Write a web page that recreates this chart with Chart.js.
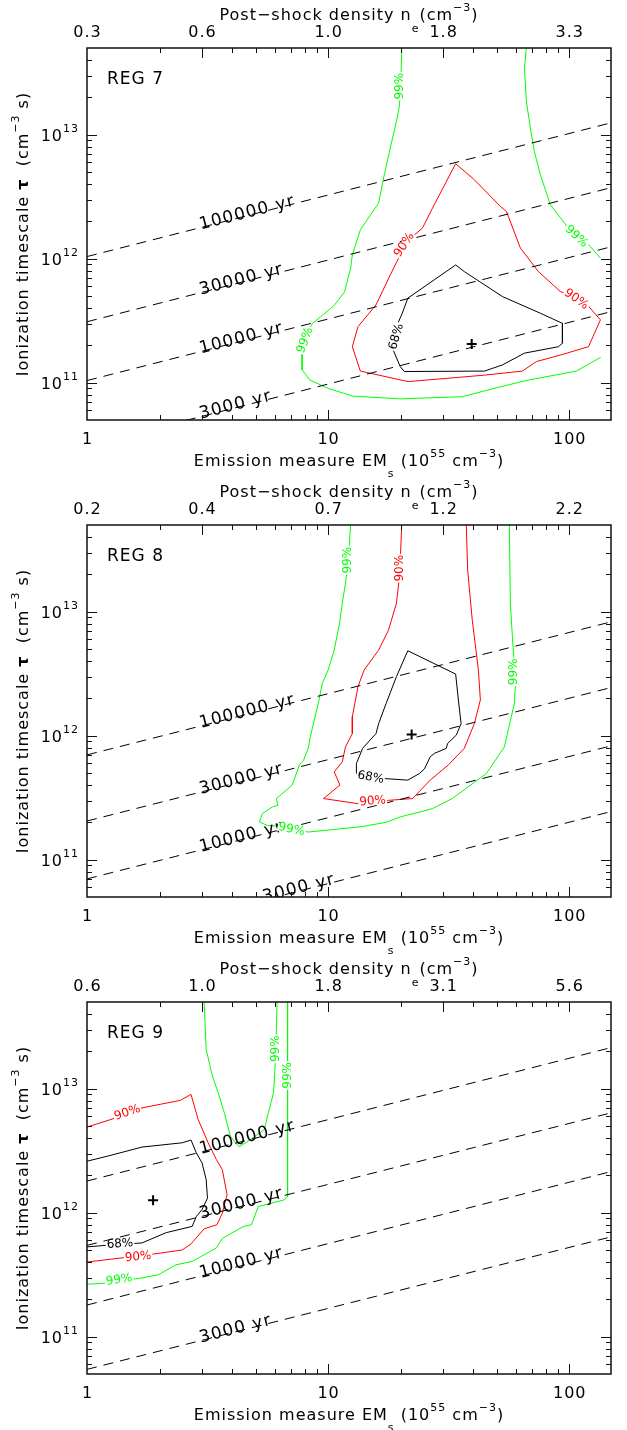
<!DOCTYPE html>
<html>
<head>
<meta charset="utf-8">
<script src="https://cdn.jsdelivr.net/npm/chart.js@4.4.1/dist/chart.umd.min.js"></script>
<style>
  html, body { margin: 0; padding: 0; background: #fff; }
  canvas { display: block; }
</style>
</head>
<body>
<canvas id="reg7" width="627" height="477"></canvas>
<canvas id="reg8" width="627" height="477"></canvas>
<canvas id="reg9" width="627" height="476"></canvas>
<script>
/* ---------- shared axis data ---------- */
const emMajor    = [1, 10, 100];
const tauMajor   = [1e11, 1e12, 1e13];
const densityEM  = [1, 3, 10, 30, 100];
const ageNames   = ['100000 yr', '30000 yr', '10000 yr', '3000 yr'];

/* ---------- REG 7 ---------- */
const reg7Density   = ['0.3', '0.6', '1.0', '1.8', '3.3'];
const reg7AgeTau1   = [1.04e12, 3.1e11, 1.04e11, 3.1e10];   // tau at EM = 1
const reg7AgeTau150 = [1.25e13, 3.75e12, 1.25e12, 3.75e11]; // tau at EM = 150
const reg7AgeLabelEM = [2.95, 2.95, 2.95, 2.95];
const reg7Green99a = [
  [20.2, 5.0e13], [20.0, 2.38e13], [19.7, 1.64e13], [19.2, 1.28e13], [18.1, 7.8e12],
  [17.1, 4.75e12], [16.2, 2.81e12], [13.6, 1.71e12], [12.6, 1.07e12], [12.4, 8.4e11],
  [11.7, 5.4e11], [10.6, 4.2e11], [9.3, 3.4e11], [8.6, 3.0e11], [8.1, 2.4e11],
  [7.8, 1.78e11], [7.8, 1.27e11], [8.4, 1.05e11], [10.0, 9.0e10], [12.6, 7.8e10],
  [19.9, 7.4e10], [36.0, 7.7e10], [49.9, 9.1e10], [67.7, 1.05e11], [107, 1.24e11],
  [135, 1.6e11],
];
const reg7Green99b = [
  [66.4, 5.0e13], [65.2, 3.45e13], [66.4, 1.86e13], [69.0, 1.13e13], [71.7, 7.3e12],
  [75.9, 4.75e12], [83.5, 2.72e12], [99.2, 1.76e12], [115.6, 1.42e12], [134.7, 1.01e12],
];
const reg7Red90 = [
  [33.8, 5.83e12], [40.4, 4.33e12], [51.8, 2.64e12], [54.9, 2.40e12], [62.7, 1.22e12],
  [74.5, 7.87e11], [91.9, 5.43e11], [115.6, 4.51e11], [134.7, 3.21e11], [120.2, 1.95e11],
  [91.9, 1.67e11], [73.1, 1.48e11], [63.9, 1.24e11], [44.5, 1.15e11], [21.5, 1.02e11],
  [13.6, 1.24e11], [12.6, 1.95e11], [13.3, 2.83e11], [15.8, 4.24e11], [18.1, 7.4e11],
  [19.9, 1.07e12], [22.4, 1.51e12], [24.6, 1.76e12], [27.1, 2.56e12],
];
const reg7Black68 = [
  [33.8, 8.9e11], [36.7, 7.87e11], [52.8, 4.95e11], [75.9, 3.63e11], [93.7, 3.01e11],
  [93.7, 2.08e11], [90.2, 1.95e11], [65.2, 1.73e11], [52.8, 1.39e11], [44.5, 1.24e11],
  [20.7, 1.23e11], [19.9, 1.35e11], [18.5, 1.89e11], [18.8, 2.58e11], [20.3, 3.63e11],
  [21.4, 4.8e11],
];
const reg7Best = [39.4, 2.05e11];
const reg7LabelText = ['99%', '99%', '99%', '90%', '90%', '68%'];
const reg7LabelEM   = [19.9, 8.03, 107, 20.7, 107, 19.2];
const reg7LabelTau  = [2.46e13, 2.2e11, 1.51e12, 1.29e12, 4.7e11, 2.35e11];

/* ---------- REG 8 ---------- */
const reg8Density   = ['0.2', '0.4', '0.7', '1.2', '2.2'];
const reg8AgeTau1   = [7.0e11, 2.05e11, 7.0e10, 2.05e10];
const reg8AgeTau150 = [8.3e12, 2.45e12, 8.3e11, 2.45e11];
const reg8AgeLabelEM = [2.95, 2.95, 2.95, 5.4];
const reg8Green99 = [
  [12.4, 5.1e13], [12.2, 3.15e13], [12.0, 2.17e13], [11.8, 1.69e13], [11.45, 1.17e13],
  [11.15, 8.05e12], [10.6, 4.9e12], [10.0, 3.38e12], [9.46, 2.64e12], [9.1, 1.82e12],
  [8.44, 9.8e11], [8.27, 7.9e11], [7.9, 6.3e11], [7.6, 5.8e11], [7.1, 4.0e11],
  [6.1, 3.1e11], [6.2, 2.75e11], [5.87, 2.66e11], [5.33, 2.35e11], [5.19, 2.01e11],
  [5.6, 1.89e11], [6.3, 1.86e11], [8.27, 1.67e11], [13.6, 1.84e11], [17.4, 2.0e11],
  [19.9, 2.21e11], [27.1, 2.58e11], [32.7, 3.11e11], [45.3, 4.95e11], [53.8, 8.1e11],
  [59.2, 1.82e12], [59.9, 2.64e12], [59.2, 3.6e12], [58.1, 6.3e12], [57.0, 1.17e13],
  [56.4, 5.1e13],
];
const reg8Red90 = [
  [20.2, 5.1e13], [19.9, 2.46e13], [19.7, 1.8e13], [19.2, 1.17e13], [17.8, 7.1e12],
  [16.2, 4.9e12], [14.1, 3.38e12], [13.3, 2.48e12], [12.6, 1.42e12], [12.6, 1.04e12],
  [11.8, 8.1e11], [11.45, 6.15e11], [10.6, 5.1e11], [11.2, 4.0e11], [9.57, 3.11e11],
  [13.3, 2.83e11], [17.8, 3.01e11], [22.4, 3.11e11], [26.5, 4.38e11], [31.5, 5.8e11],
  [36.7, 7.9e11], [40.4, 1.25e12], [42.8, 1.94e12], [42.0, 3.38e12], [39.6, 8.6e12],
  [37.9, 2.17e13], [37.4, 5.1e13],
];
const reg8Black68 = [
  [21.4, 4.84e12], [33.8, 3.14e12], [34.7, 1.94e12], [35.6, 1.25e12], [34.0, 1.01e12],
  [31.3, 8.65e11], [30.9, 7.9e11], [27.6, 7.2e11], [26.5, 6.75e11], [25.1, 5.4e11],
  [23.9, 4.95e11], [21.4, 4.38e11], [17.4, 4.5e11], [13.1, 4.95e11], [13.1, 5.96e11],
  [13.9, 7.9e11], [15.8, 1.04e12], [16.2, 1.25e12], [17.4, 1.82e12], [19.2, 2.99e12],
];
const reg8Best = [22.2, 1.02e12];
const reg8LabelText = ['99%', '90%', '68%', '90%', '99%', '99%'];
const reg8LabelEM   = [12.1, 19.9, 15.0, 15.3, 7.05, 59.2];
const reg8LabelTau  = [2.6e13, 2.24e13, 4.6e11, 2.96e11, 1.75e11, 3.27e12];

/* ---------- REG 9 ---------- */
const reg9Density   = ['0.6', '1.0', '1.8', '3.1', '5.6'];
const reg9AgeTau1   = [1.8e12, 5.45e11, 1.8e11, 5.45e10];
const reg9AgeTau150 = [2.15e13, 6.4e12, 2.15e12, 6.4e11];
const reg9AgeLabelEM = [2.95, 2.95, 2.95, 2.95];
const reg9Green99a = [
  [3.06, 5.1e13], [3.12, 2.08e13], [3.31, 1.27e13], [3.5, 9.3e12], [3.71, 6.4e12],
  [3.93, 4.14e12], [4.27, 3.4e12], [4.67, 3.78e12], [5.44, 4.69e12], [5.65, 6.4e12],
  [5.94, 9.3e12], [6.05, 1.73e13], [6.1, 3.0e13], [6.14, 5.1e13],
];
const reg9Green99b = [
  [6.79, 5.1e13], [6.79, 1.35e12], [6.58, 1.27e12], [5.13, 1.12e12], [4.81, 8.0e11],
  [4.46, 7.75e11], [3.64, 6.2e11], [3.44, 5.2e11], [2.73, 4.04e11], [2.34, 3.8e11],
  [1.97, 3.15e11], [1.66, 2.96e11], [1.18, 2.7e11], [1.0, 2.65e11],
];
const reg9Red90 = [
  [1.0, 4.9e12], [1.32, 5.82e12], [1.69, 7.0e12], [2.44, 8.05e12], [2.70, 9.0e12],
  [2.89, 5.65e12], [3.18, 3.66e12], [3.44, 2.68e12], [3.64, 2.23e12], [3.81, 1.4e12],
  [3.64, 9.9e11], [3.46, 8.0e11], [3.06, 7.4e11], [2.70, 5.6e11], [2.48, 5.0e11],
  [1.79, 4.57e11], [1.37, 4.3e11], [1.0, 4.0e11],
];
const reg9Black68 = [
  [1.0, 2.6e12], [1.22, 2.86e12], [1.69, 3.38e12], [2.48, 3.66e12], [2.70, 3.85e12],
  [2.84, 3.04e12], [3.0, 2.52e12], [3.12, 1.85e12], [3.16, 1.31e12], [3.0, 1.06e12],
  [2.84, 9.3e11], [2.73, 7.75e11], [2.13, 6.9e11], [1.69, 5.7e11], [1.20, 5.45e11],
  [1.0, 5.3e11],
];
const reg9Best = [1.88, 1.26e12];
const reg9LabelText = ['99%', '99%', '90%', '68%', '90%', '99%'];
const reg9LabelEM   = [6.05, 6.79, 1.47, 1.37, 1.63, 1.36];
const reg9LabelTau  = [2.1e13, 1.28e13, 6.4e12, 5.6e11, 4.4e11, 2.87e11];

/* ---------- style ---------- */
const FONT  = '"DejaVu Sans", sans-serif';
const GREEN = '#00ff00';
const RED   = '#ff0000';
const BLACK = '#000000';

function setFont(ctx, size, bold) {
  ctx.font = (bold ? 'bold ' : '') + size + 'px ' + FONT;
}

/* parts: [text, mode]  mode: '' | 'b' | 'sup' | 'sub' | 'low' */
function partSize(m, size) { return (m === 'sup' || m === 'sub' || m === 'low') ? Math.round(size * 0.7) : size; }

function richWidth(ctx, parts, size) {
  let w = 0;
  parts.forEach(([t, m]) => { setFont(ctx, partSize(m, size), m === 'b'); w += ctx.measureText(t).width; });
  return w;
}

function drawRich(ctx, parts, x, y, size, align) {
  const w = richWidth(ctx, parts, size);
  let cx = align === 'center' ? x - w / 2 : align === 'right' ? x - w : x;
  ctx.textAlign = 'left';
  ctx.textBaseline = 'middle';
  parts.forEach(([t, m]) => {
    setFont(ctx, partSize(m, size), m === 'b');
    const dy = m === 'sup' ? -size * 0.5 : m === 'sub' ? size * 0.75 : m === 'low' ? size * 0.85 : 0;
    ctx.fillText(t, cx, y + dy);
    cx += ctx.measureText(t).width;
  });
}

function toPts(arr) { return arr.map(p => ({ x: p[0], y: p[1] })); }

function contour(arr, color, closed) {
  const data = toPts(arr);
  if (closed) data.push(data[0]);
  return { data, showLine: true, borderColor: color, borderWidth: 1, pointRadius: 0, tension: 0, fill: false };
}

/* ---------- axes / labels plugin ---------- */
const idlFrame = {
  id: 'idlFrame',
  afterDatasetsDraw(chart, args, o) {
    const { ctx, chartArea: a, scales: { x, y } } = chart;
    ctx.save();
    ctx.fillStyle = BLACK;
    ctx.strokeStyle = BLACK;

    /* age labels along dashed lines */
    setFont(ctx, 17);
    ctx.letterSpacing = '1.2px';
    ctx.textAlign = 'left';
    ctx.textBaseline = 'alphabetic';
    o.ageTau1.forEach((t0, i) => {
      const x0 = x.getPixelForValue(1),   y0 = y.getPixelForValue(t0);
      const x1 = x.getPixelForValue(150), y1 = y.getPixelForValue(o.ageTau150[i]);
      const px = x.getPixelForValue(o.ageLabelEM[i]);
      const f  = (px - x0) / (x1 - x0);
      const py = y0 + f * (y1 - y0);
      ctx.save();
      ctx.beginPath();
      ctx.rect(a.left, a.top, a.right - a.left, a.bottom - a.top);
      ctx.clip();
      ctx.translate(px, py);
      ctx.rotate(Math.atan2(y1 - y0, x1 - x0));
      ctx.fillText(ageNames[i], 0, 2);
      ctx.restore();
    });

    /* contour labels with the line broken beneath */
    setFont(ctx, 12);
    ctx.letterSpacing = '0px';
    ctx.textAlign = 'center';
    ctx.textBaseline = 'middle';
    o.labelText.forEach((t, i) => {
      const px = x.getPixelForValue(o.labelEM[i]);
      const py = y.getPixelForValue(o.labelTau[i]);
      const w  = ctx.measureText(t).width;
      ctx.save();
      ctx.translate(px, py);
      ctx.rotate(o.labelAngle[i] * Math.PI / 180);
      ctx.fillStyle = '#fff';
      ctx.fillRect(-w / 2 - 1, -4, w + 2, 8);
      ctx.fillStyle = o.labelColor[i];
      ctx.fillText(t, 0, 0);
      ctx.restore();
    });

    /* frame */
    ctx.lineWidth = 1.5;
    ctx.strokeStyle = '#111';
    ctx.strokeRect(a.left, a.top, a.right - a.left, a.bottom - a.top);

    /* ticks */
    ctx.lineWidth = 1;
    ctx.beginPath();
    [1, 10, 100].forEach(d => {
      for (let m = 1; m <= 9; m++) {
        const v = d * m;
        if (v <= 1 || v >= 149) continue;
        const px = Math.round(x.getPixelForValue(v)) + 0.5;
        const lb = m === 1 ? 10 : 5;
        const lt = densityEM.includes(v) ? 10 : 5;
        ctx.moveTo(px, a.bottom); ctx.lineTo(px, a.bottom - lb);
        ctx.moveTo(px, a.top);    ctx.lineTo(px, a.top + lt);
      }
    });
    [1e10, 1e11, 1e12, 1e13].forEach(d => {
      for (let m = 1; m <= 9; m++) {
        const v = d * m;
        if (v <= 5e10 || v >= 5e13) continue;
        const py = Math.round(y.getPixelForValue(v)) + 0.5;
        const l = m === 1 ? 10 : 5;
        ctx.moveTo(a.left, py);  ctx.lineTo(a.left + l, py);
        ctx.moveTo(a.right, py); ctx.lineTo(a.right - l, py);
      }
    });
    ctx.stroke();

    /* tick labels */
    ctx.letterSpacing = '1px';
    setFont(ctx, 16);
    ctx.textAlign = 'center';
    ctx.textBaseline = 'middle';
    emMajor.forEach(v => ctx.fillText(String(v), x.getPixelForValue(v) + 0.5, a.bottom + 20));
    densityEM.forEach((v, i) => ctx.fillText(o.density[i], x.getPixelForValue(v) + 0.5, a.top - 15));
    tauMajor.forEach(v => {
      const e = String(Math.round(Math.log10(v)));
      drawRich(ctx, [['10', ''], [e, 'sup']], a.left - 8, y.getPixelForValue(v) + 2, 16, 'right');
    });

    /* axis titles */
    const cx = (a.left + a.right) / 2;
    drawRich(ctx, [['Emission measure EM', ''], ['s', 'sub'], [' (10', ''], ['55', 'sup'], [' cm', ''], ['\u22123', 'sup'], [')', '']],
      cx, a.bottom + 42, 16, 'center');
    drawRich(ctx, [['Post\u2212shock density n', ''], ['e', 'low'], ['(cm', ''], ['\u22123', 'sup'], [')', '']],
      cx, a.top - 32, 16, 'center');
    ctx.save();
    ctx.translate(24, (a.top + a.bottom) / 2);
    ctx.rotate(-Math.PI / 2);
    drawRich(ctx, [['Ionization timescale ', ''], ['\u03c4', 'b'], ['  (cm', ''], ['\u22123', 'sup'], [' s)', '']],
      0, 0, 16, 'center');
    ctx.restore();

    /* panel name */
    setFont(ctx, 17);
    ctx.textAlign = 'left';
    ctx.fillText(o.name, a.left + 20, a.top + 32);
    ctx.restore();
  },
};

function makePanel(id, p) {
  const datasets = [];
  p.ageTau1.forEach((t0, i) => datasets.push({
    data: [{ x: 1, y: t0 }, { x: 150, y: p.ageTau150[i] }],
    showLine: true, borderColor: BLACK, borderWidth: 1, borderDash: [10, 7], pointRadius: 0,
  }));
  p.green.forEach(c => datasets.push(contour(c, GREEN, false)));
  datasets.push(contour(p.red, RED, p.redClosed));
  datasets.push(contour(p.black, BLACK, p.blackClosed));
  datasets.push({
    data: [{ x: p.best[0], y: p.best[1] }], showLine: false,
    pointStyle: 'cross', pointRadius: 5, borderWidth: 2, borderColor: BLACK,
  });

  const canvas = document.getElementById(id);
  return new Chart(canvas, {
    type: 'scatter',
    data: { datasets },
    options: {
      responsive: false,
      devicePixelRatio: 1,
      animation: false,
      events: [],
      layout: { padding: { left: 87, right: 16, top: 48, bottom: canvas.height - 420 } },
      plugins: {
        legend: { display: false },
        tooltip: { enabled: false },
        idlFrame: p,
      },
      scales: {
        x: { type: 'logarithmic', min: 1, max: 149, display: false },
        y: { type: 'logarithmic', min: 5e10, max: 5e13, display: false },
      },
    },
    plugins: [idlFrame],
  });
}

makePanel('reg7', {
  name: 'REG 7', density: reg7Density,
  ageTau1: reg7AgeTau1, ageTau150: reg7AgeTau150, ageLabelEM: reg7AgeLabelEM,
  green: [reg7Green99a, reg7Green99b], red: reg7Red90, redClosed: true, black: reg7Black68, blackClosed: true,
  best: reg7Best,
  labelText: reg7LabelText, labelEM: reg7LabelEM, labelTau: reg7LabelTau,
  labelColor: [GREEN, GREEN, GREEN, RED, RED, BLACK],
  labelAngle: [-90, -70, 43, -56, 35, -74],
});

makePanel('reg8', {
  name: 'REG 8', density: reg8Density,
  ageTau1: reg8AgeTau1, ageTau150: reg8AgeTau150, ageLabelEM: reg8AgeLabelEM,
  green: [reg8Green99], red: reg8Red90, redClosed: false, black: reg8Black68, blackClosed: true,
  best: reg8Best,
  labelText: reg8LabelText, labelEM: reg8LabelEM, labelTau: reg8LabelTau,
  labelColor: [GREEN, RED, BLACK, RED, GREEN, GREEN],
  labelAngle: [-90, -90, 10, -5, 12, -90],
});

makePanel('reg9', {
  name: 'REG 9', density: reg9Density,
  ageTau1: reg9AgeTau1, ageTau150: reg9AgeTau150, ageLabelEM: reg9AgeLabelEM,
  green: [reg9Green99a, reg9Green99b], red: reg9Red90, redClosed: false, black: reg9Black68, blackClosed: false,
  best: reg9Best,
  labelText: reg9LabelText, labelEM: reg9LabelEM, labelTau: reg9LabelTau,
  labelColor: [GREEN, GREEN, RED, BLACK, RED, GREEN],
  labelAngle: [-90, -90, -19, -4, -5, -9],
});
</script>
</body>
</html>
